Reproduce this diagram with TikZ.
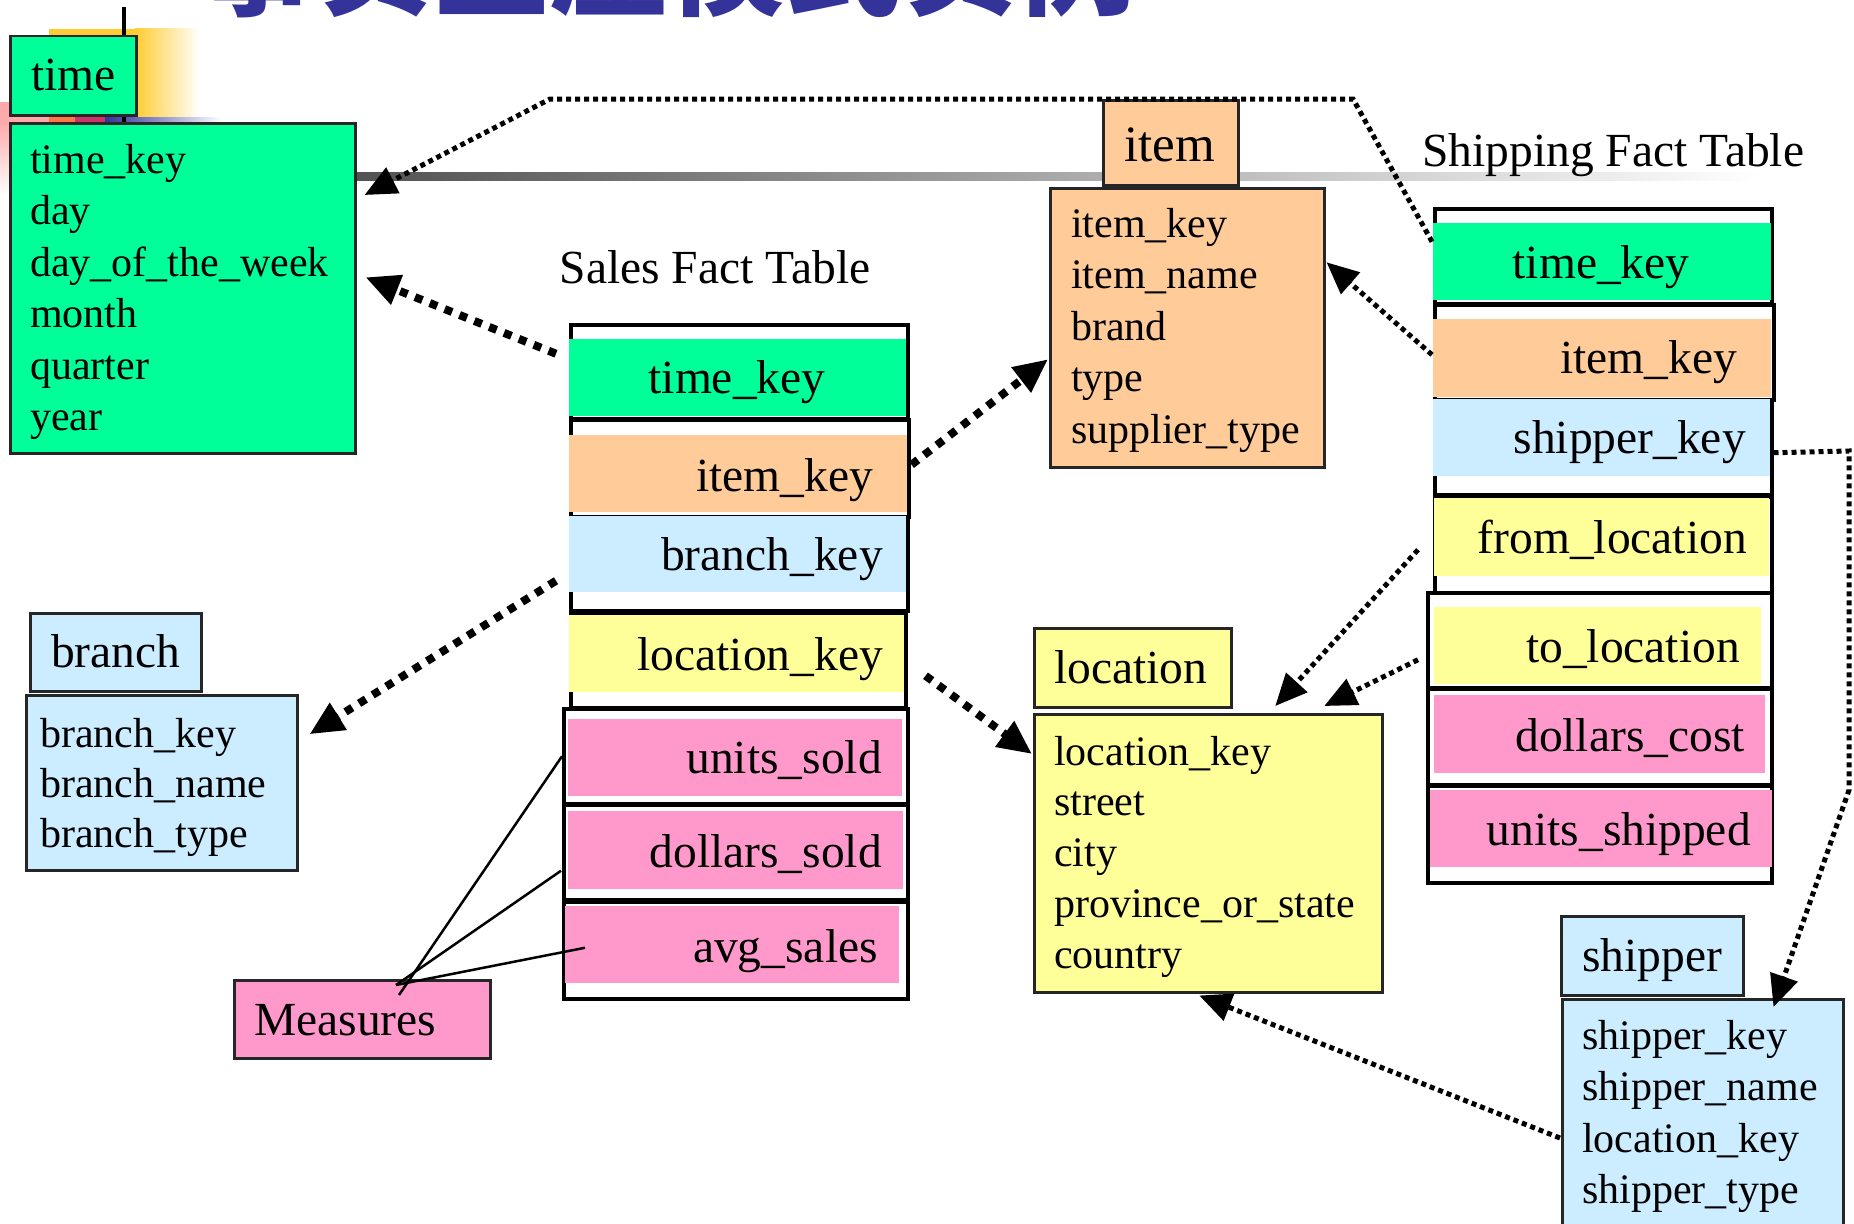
\documentclass[tikz,border=0pt]{standalone}
\usepackage{fontspec}
\setmainfont{Liberation Serif}
\newfontfamily\cjkfont{Noto Sans CJK SC}
\usetikzlibrary{arrows.meta,calc}
\definecolor{cGreen}{HTML}{00FF99}
\definecolor{cPeach}{HTML}{FFCC99}
\definecolor{cBlue}{HTML}{CCECFF}
\definecolor{cYellow}{HTML}{FFFF99}
\definecolor{cPink}{HTML}{FF99CC}
\definecolor{cTitle}{HTML}{333399}
\definecolor{dYel}{HTML}{FFCC33}
\definecolor{dPink}{HTML}{FFAAAA}
\definecolor{dOra}{HTML}{FF7744}
\definecolor{dRed}{HTML}{CC3366}
\newcommand\attrfont{\fontsize{42}{51}\selectfont}
\newcommand\bigfont{\fontsize{47.5}{57}\selectfont}
\begin{document}
\begin{tikzpicture}[x=1pt,y=-1pt,
  dimbox/.style={draw=black!85, line width=2.5pt, inner sep=0pt, anchor=north west},
  factbox/.style={draw=black, line width=3.5pt, fill=white, inner sep=0pt, anchor=north west},
  bar/.style={inner sep=0pt, anchor=north west},
  sz/.style 2 args={minimum width=#1pt, minimum height=#2pt},
  attr/.style={font=\attrfont, inner sep=0pt, anchor=base west},
  big/.style={font=\bigfont, inner sep=0pt},
  sarrow/.style={line width=8pt, dash pattern=on 8pt off 8pt, -{Triangle[length=34pt,width=30pt]}},
  harrow/.style={line width=5pt, dash pattern=on 5pt off 4pt, -{Triangle[length=32pt,width=28pt]}},
  mline/.style={line width=2.5pt}
]
\useasboundingbox (0,0) rectangle (1854,1223);
% title (cut by the top edge, as in the reference)
\node[font=\cjkfont\bfseries\fontsize{117}{122}\selectfont, text=cTitle, anchor=base west, inner sep=0pt] (title) at (199,7) {事实星座模式实例};
% template decoration
\fill[dYel] (49,29) rectangle (135,118);
\shade[left color=dYel, right color=white] (135,29) rectangle (200,118);
\fill[dPink] (0,102) rectangle (49,122);
\shade[top color=dPink, bottom color=white] (0,122) rectangle (9,195);
\fill[dOra] (49,114) rectangle (75,122);
\fill[dRed] (75,117) rectangle (105,122);
\shade[left color=cTitle, right color=white] (105,117) rectangle (222,122);
\draw[line width=4pt] (124,7) -- (124,122);
\shade[left color=black!68, right color=white] (354,172) rectangle (1760,180);

% ---- time dimension
\node[dimbox, fill=cGreen, sz={126}{79}] (timeh) at (9,35) {};
\node[big, anchor=base west] (timeht) at (31,90) {time};
\node[dimbox, fill=cGreen, sz={345}{330}] (timeb) at (9,122) {};
\foreach \t [count=\i] in {time\_key,day,day\_of\_the\_week,month,quarter,year}
  \node[attr] (timea\i) at (30,{173+51.5*(\i-1)}) {\t};

% ---- item dimension
\node[dimbox, fill=cPeach, sz={135}{85}] (itemh) at (1102,99) {};
\node[font=\fontsize{51}{60}\selectfont, inner sep=0pt, anchor=base west] (itemht) at (1124,161) {item};
\node[dimbox, fill=cPeach, sz={274}{279}] (itemb) at (1049,187) {};
\foreach \t [count=\i] in {item\_key,item\_name,brand,type,supplier\_type}
  \node[attr] (itema\i) at (1071,{237+51.5*(\i-1)}) {\t};

% ---- location dimension
\node[dimbox, fill=cYellow, sz={197}{79}] (loch) at (1033,627) {};
\node[big, anchor=base west] (locht) at (1054,683) {location};
\node[dimbox, fill=cYellow, sz={348}{278}] (locb) at (1033,713) {};
\foreach \t [count=\i] in {location\_key,street,city,province\_or\_state,country}
  \node[attr] (loca\i) at (1054,{765+50.8*(\i-1)}) {\t};

% ---- branch dimension
\node[dimbox, fill=cBlue, sz={171}{78}] (branchh) at (29,612) {};
\node[big, anchor=base west] (branchht) at (51,667) {branch};
\node[dimbox, fill=cBlue, sz={271}{175}] (branchb) at (25,694) {};
\foreach \t [count=\i] in {branch\_key,branch\_name,branch\_type}
  \node[attr] (brancha\i) at (40,{747+50*(\i-1)}) {\t};

% ---- shipper dimension
\node[dimbox, fill=cBlue, sz={182}{79}] (shipperh) at (1560,915) {};
\node[big, anchor=base west] (shipperht) at (1582,971) {shipper};
\node[dimbox, fill=cBlue, sz={281}{260}] (shipperb) at (1561,998) {};
\foreach \t [count=\i] in {shipper\_key,shipper\_name,location\_key,shipper\_type}
  \node[attr] (shippera\i) at (1582,{1049+51.5*(\i-1)}) {\t};

% ---- measures
\node[dimbox, fill=cPink, sz={256}{78}] (meas) at (233,979) {};
\node[big, anchor=base west] (meast) at (254,1035) {Measures};

% ---- Sales Fact Table
\node[big, anchor=base] (salest) at (715,283) {Sales Fact Table};
\node[factbox, sz={337}{94}] (s1) at (569,323) {};
\node[bar, fill=cGreen, sz={337}{77}] (s1b) at (569,339) {};
\node[big, anchor=base] (s1t) at (737,393) {time\_key};
\node[factbox, sz={338}{97}] (s2) at (569,418) {};
\node[bar, fill=cPeach, sz={338}{77}] (s2b) at (569,435) {};
\node[big, anchor=base east] (s2t) at (873,491) {item\_key};
\node[factbox, sz={337}{94}] (s3) at (569,515) {};
\node[bar, fill=cBlue, sz={337}{76}] (s3b) at (569,516) {};
\node[big, anchor=base east] (s3t) at (883,570) {branch\_key};
\node[factbox, sz={335}{95}] (s4) at (569,611) {};
\node[bar, fill=cYellow, sz={335}{77}] (s4b) at (569,615) {};
\node[big, anchor=base east] (s4t) at (883,670) {location\_key};
\node[factbox, sz={344}{95}] (s5) at (562,707) {};
\node[bar, fill=cPink, sz={334}{77}] (s5b) at (568,719) {};
\node[big, anchor=base east] (s5t) at (882,773) {units\_sold};
\node[factbox, sz={344}{95}] (s6) at (562,803) {};
\node[bar, fill=cPink, sz={335}{78}] (s6b) at (568,811) {};
\node[big, anchor=base east] (s6t) at (882,867) {dollars\_sold};
\node[factbox, sz={344}{97}] (s7) at (562,900) {};
\node[bar, fill=cPink, sz={334}{77}] (s7b) at (565,906) {};
\node[big, anchor=base east] (s7t) at (878,962) {avg\_sales};

% ---- Shipping Fact Table
\node[big, anchor=base west] (shipt) at (1422,166) {Shipping Fact Table};
\node[factbox, sz={337}{95}] (h1) at (1433,207) {};
\node[bar, fill=cGreen, sz={338}{77}] (h1b) at (1433,223) {};
\node[big, anchor=base] (h1t) at (1601,278) {time\_key};
\node[factbox, sz={339}{95}] (h2) at (1433,303) {};
\node[bar, fill=cPeach, sz={338}{78}] (h2b) at (1433,319) {};
\node[big, anchor=base east] (h2t) at (1737,373) {item\_key};
\node[factbox, sz={337}{95}] (h3) at (1433,398) {};
\node[bar, fill=cBlue, sz={337}{77}] (h3b) at (1433,399) {};
\node[big, anchor=base east] (h3t) at (1746,453) {shipper\_key};
\node[factbox, sz={337}{96}] (h4) at (1433,495) {};
\node[bar, fill=cYellow, sz={335}{78}] (h4b) at (1434,498) {};
\node[big, anchor=base east] (h4t) at (1747,553) {from\_location};
\node[factbox, sz={344}{95}] (h5) at (1426,591) {};
\node[bar, fill=cYellow, sz={327}{77}] (h5b) at (1434,607) {};
\node[big, anchor=base east] (h5t) at (1740,662) {to\_location};
\node[factbox, sz={344}{96}] (h6) at (1426,687) {};
\node[bar, fill=cPink, sz={331}{78}] (h6b) at (1434,695) {};
\node[big, anchor=base east] (h6t) at (1745,751) {dollars\_cost};
\node[factbox, sz={344}{97}] (h7) at (1426,784) {};
\node[bar, fill=cPink, sz={342}{77}] (h7b) at (1430,790) {};
\node[big, anchor=base east] (h7t) at (1751,845) {units\_shipped};

% ---- measures lines
\coordinate (mj) at ($(meas.north west)+(163,6)$);
\draw[mline] ($(mj)+(3,10)$) -- (s5.west);
\draw[mline] (mj) -- ($(s6.west)+(-1,18.5)$);
\draw[mline] (mj) -- ($(s7.west)+(23,-2.5)$);

% ---- Sales arrows
\draw[sarrow] ($(s1.west)+(-13,-18)$) -- ($(timeb.east)+(9,-11)$);
\draw[sarrow] ($(s2.east)+(1,-3.5)$) -- ($(itemb.west)+(-1,31.5)$);
\draw[sarrow] ($(s3.west)+(-13,17)$) -- ($(branchb.east)+(11,-48.5)$);
\draw[sarrow] ($(s4.east)+(18,15.5)$) -- ($(locb.north west)+(-1,41)$);

% ---- Shipping arrows
\draw[harrow] ($(h1.west)+(-1,-14.5)$) -- (1353,99) -- (550,99) -- ($(timeb.north east)+(8,73)$);
\draw[harrow] ($(h2.west)+(-1,2.5)$) -- ($(itemb.east)+(1,-65.5)$);
\draw[harrow] ($(h3.east)+(0,5.5)$) -- (1849,451) -- (1849,790) -- ($(shipperb.north east)+(-71,9)$);
\draw[harrow] ($(h4.west)+(-15,5)$) -- ($(locb.north)+(67,-7)$);
\draw[harrow] ($(h5.west)+(-8,19.5)$) -- ($(locb.north)+(116,-7)$);
\draw[harrow] ($(shipperb.north west)+(-1,140)$) -- ($(locb.south)+(-9,2)$);
\end{tikzpicture}
\end{document}
